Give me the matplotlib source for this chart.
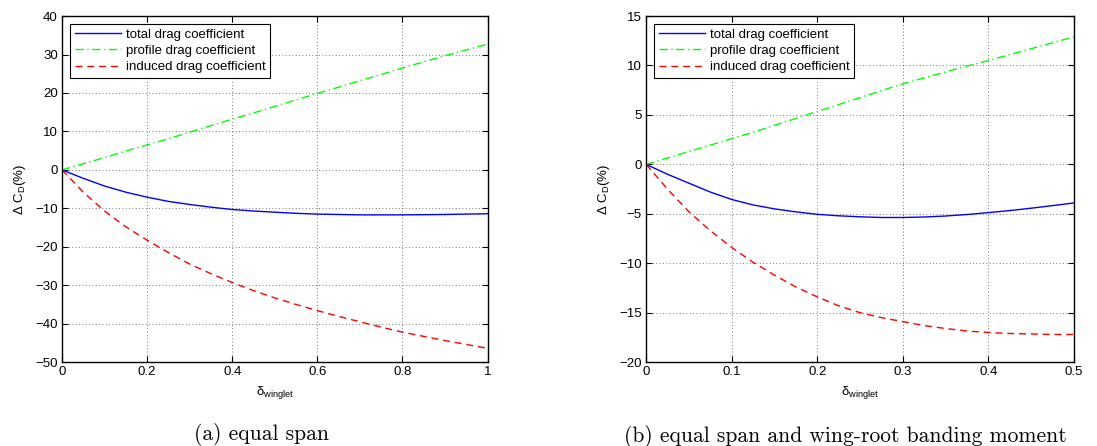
import matplotlib
matplotlib.use('Agg')
import matplotlib.pyplot as plt

plt.rcParams['font.family'] = ['Liberation Sans', 'DejaVu Sans']
plt.rcParams['mathtext.fontset'] = 'custom'
plt.rcParams['mathtext.rm'] = 'Liberation Sans'
plt.rcParams['mathtext.it'] = 'Liberation Sans:italic'
plt.rcParams['mathtext.default'] = 'regular'

# (a) equal span
x_a = [0.0, 0.05, 0.1, 0.15, 0.2, 0.25, 0.3, 0.35, 0.4, 0.45, 0.5,
       0.55, 0.6, 0.65, 0.7, 0.75, 0.8, 0.85, 0.9, 0.95, 1.0]
total_a = [0.0, -2.2, -4.2, -5.8, -7.1, -8.2, -9.0, -9.7, -10.3, -10.7, -11.0,
           -11.3, -11.5, -11.6, -11.7, -11.7, -11.7, -11.65, -11.6, -11.5, -11.4]
profile_a = [0.0, 1.6, 3.2, 4.9, 6.5, 8.1, 9.8, 11.5, 13.2, 14.8, 16.5,
             18.2, 19.9, 21.5, 23.2, 24.8, 26.5, 28.1, 29.7, 31.2, 32.7]
induced_a = [0.0, -5.8, -10.7, -14.8, -18.3, -21.5, -24.5, -27.0, -29.3, -31.4, -33.3,
             -35.0, -36.6, -38.1, -39.5, -40.9, -42.2, -43.3, -44.4, -45.4, -46.4]

# (b) equal span and wing-root banding moment
x_b = [0.0, 0.025, 0.05, 0.075, 0.1, 0.125, 0.15, 0.175, 0.2, 0.225, 0.25,
       0.275, 0.3, 0.325, 0.35, 0.375, 0.4, 0.425, 0.45, 0.475, 0.5]
total_b = [0.0, -1.0, -1.9, -2.8, -3.55, -4.1, -4.5, -4.8, -5.05, -5.2, -5.3,
           -5.37, -5.37, -5.32, -5.22, -5.07, -4.88, -4.67, -4.43, -4.17, -3.9]
profile_b = [0.0, 0.65, 1.3, 1.95, 2.6, 3.25, 3.95, 4.65, 5.35, 6.05, 6.75,
             7.45, 8.15, 8.75, 9.35, 9.95, 10.5, 11.1, 11.7, 12.3, 12.9]
induced_b = [0.0, -2.5, -4.8, -6.7, -8.4, -9.9, -11.2, -12.4, -13.4, -14.3, -15.0,
             -15.5, -15.9, -16.3, -16.6, -16.85, -17.0, -17.1, -17.15, -17.2, -17.2]

labels = ['total drag coefficient', 'profile drag coefficient', 'induced drag coefficient']

fig = plt.figure(figsize=(10.97, 4.46), dpi=100)
ax1 = fig.add_axes([0.0565, 0.188, 0.388, 0.776])
ax2 = fig.add_axes([0.589, 0.188, 0.390, 0.776])


def draw(ax, x, total, profile, induced, xlim, ylim, xticks, yticks):
    ax.plot(x, total, color=(0, 0, 1), lw=1.0, label=labels[0])
    ax.plot(x, profile, color=(0, 1, 0), lw=1.0, ls=(0, (6, 2.5, 1, 2.5)), label=labels[1])
    ax.plot(x, induced, color=(1, 0, 0), lw=1.0, ls=(0, (5, 3.5)), label=labels[2])
    ax.set_xlim(xlim)
    ax.set_ylim(ylim)
    ax.set_xticks(xticks)
    ax.set_yticks(yticks)
    ax.set_xticklabels([('%g' % t) for t in xticks])
    ax.set_yticklabels([('%g' % t).replace('-', '\u2212') for t in yticks])
    ax.grid(True, color='k', ls=(0, (1, 3)), lw=0.6, alpha=0.7)
    ax.tick_params(direction='in', top=True, right=True, labelsize=9.5, length=4, width=0.8, pad=3)
    for s in ax.spines.values():
        s.set_linewidth(1.0)
    ax.set_xlabel(r'$\delta_{winglet}$', fontsize=9.5, labelpad=4)
    ax.set_ylabel(r'$\Delta$ C$_D$(%)', fontsize=9.5, labelpad=5)
    leg = ax.legend(loc='upper left', fontsize=9.5, fancybox=False, framealpha=1,
                    edgecolor='k', borderpad=0.35, labelspacing=0.3, handlelength=3.5,
                    handletextpad=0.4, borderaxespad=0.6)
    leg.get_frame().set_linewidth(0.8)


draw(ax1, x_a, total_a, profile_a, induced_a, (0, 1), (-50, 40),
     [0, 0.2, 0.4, 0.6, 0.8, 1], list(range(-50, 41, 10)))
draw(ax2, x_b, total_b, profile_b, induced_b, (0, 0.5), (-20, 15),
     [0, 0.1, 0.2, 0.3, 0.4, 0.5], list(range(-20, 16, 5)))

fig.text(0.238, 0.025, '(a) equal span', family='cmr10', fontsize=15.5, ha='center', va='center')
fig.text(0.771, 0.022, '(b) equal span and wing-root banding moment', family='cmr10',
         fontsize=15.5, ha='center', va='center')

fig.savefig('out.png', dpi=100)
